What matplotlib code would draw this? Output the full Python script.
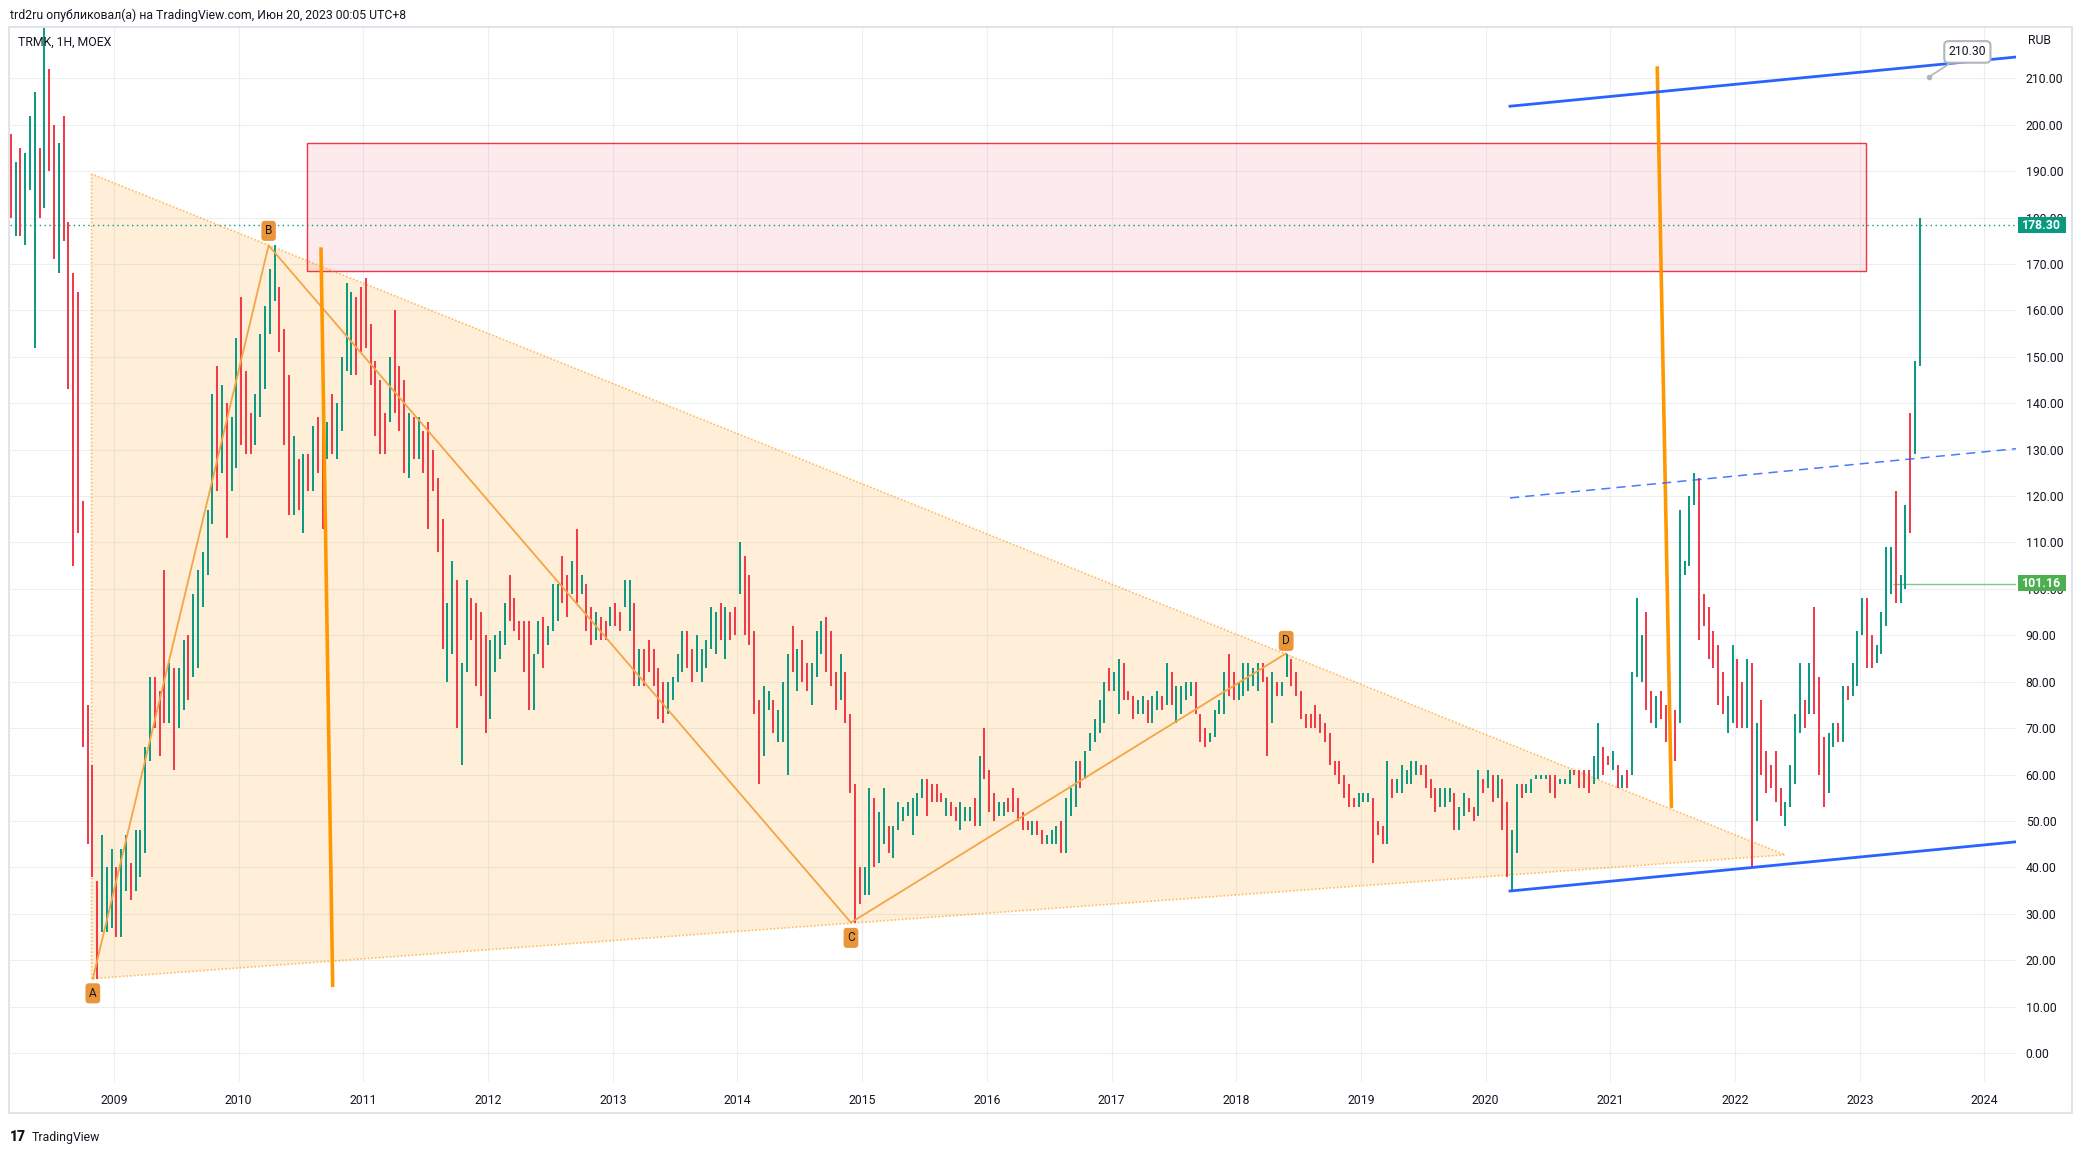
import numpy as np
import matplotlib.pyplot as plt
from matplotlib.patches import Polygon, Rectangle

plt.rcParams['font.family'] = ['Roboto', 'DejaVu Sans']

# ---- price bars: two-week bars (low / high / direction) ----
bar_start = 2008 + 4 / 26
bars_per_year = 26

bar_lo = [
    180, 176, 176, 174, 186, 152, 180, 182, 190, 171, 168, 175, 143, 105, 112, 66, 45, 38, 16, 26, 26, 27,  # 2008
    25, 25, 35, 33, 35, 38, 43, 63, 70, 64, 71, 71, 61, 70, 74, 76, 81, 83, 96, 103, 114, 121, 125, 111, 121, 126,  # 2009
    131, 129, 129, 131, 137, 143, 155, 162, 151, 131, 116, 116, 117, 112, 121, 121, 125, 113, 128, 129, 128, 134, 147, 146, 146, 151,  # 2010
    152, 144, 133, 129, 129, 136, 138, 134, 125, 124, 128, 128, 125, 113, 121, 108, 87, 80, 86, 70, 62, 82, 89, 79, 77, 69,  # 2011
    72, 82, 85, 88, 93, 91, 89, 82, 74, 74, 86, 83, 88, 91, 93, 97, 94, 99, 97, 99, 91, 88, 89, 89, 89, 92,  # 2012
    92, 91, 96, 91, 79, 79, 79, 82, 79, 72, 71, 73, 76, 80, 82, 83, 80, 82, 80, 83, 87, 86, 89, 85, 89, 90,  # 2013
    99, 90, 88, 73, 58, 64, 74, 69, 67, 67, 60, 82, 78, 80, 78, 75, 81, 86, 82, 79, 74, 76, 71, 56, 28, 32,  # 2014
    34, 34, 40, 41, 45, 43, 42, 48, 50, 51, 47, 51, 55, 51, 54, 54, 54, 51, 51, 50, 48, 50, 50, 49, 49, 59,  # 2015
    52, 50, 51, 51, 52, 52, 50, 48, 48, 47, 47, 45, 45, 45, 45, 43, 43, 51, 53, 57, 59, 65, 67, 69, 71, 78,  # 2016
    78, 73, 76, 76, 72, 73, 73, 71, 71, 74, 74, 75, 75, 71, 73, 76, 77, 73, 67, 66, 67, 68, 73, 73, 77, 76,  # 2017
    76, 77, 78, 79, 78, 80, 64, 71, 77, 77, 81, 79, 77, 72, 70, 70, 70, 69, 67, 62, 60, 58, 55, 53, 53, 53,  # 2018
    54, 54, 41, 47, 45, 45, 55, 56, 56, 58, 58, 60, 60, 57, 55, 52, 53, 53, 54, 48, 48, 51, 52, 50, 51, 56,  # 2019
    57, 54, 55, 48, 38, 35, 43, 55, 56, 56, 59, 59, 59, 56, 55, 58, 58, 58, 60, 57, 57, 56, 58, 59, 60, 62,  # 2020
    61, 57, 57, 57, 60, 81, 80, 74, 71, 70, 72, 67, 66, 63, 71, 103, 105, 118, 89, 92, 85, 83, 75, 73, 69, 71,  # 2021
    70, 70, 70, 40, 50, 60, 56, 57, 54, 51, 49, 53, 58, 69, 70, 73, 73, 60, 53, 56, 66, 67, 67, 76, 77, 79,  # 2022
    90, 83, 83, 84, 86, 92, 99, 97, 97, 100, 112, 129, 148,  # 2023
]
bar_hi = [
    198, 192, 195, 194, 202, 207, 195, 221, 212, 200, 196, 202, 179, 168, 164, 119, 75, 62, 37, 47, 40, 44,  # 2008
    40, 44, 47, 41, 48, 48, 66, 81, 81, 78, 104, 84, 83, 83, 89, 90, 99, 104, 108, 117, 142, 148, 144, 140, 137, 154,  # 2009
    163, 147, 138, 142, 155, 161, 169, 174, 165, 156, 146, 133, 128, 129, 129, 135, 137, 135, 136, 142, 140, 150, 166, 164, 163, 165,  # 2010
    167, 157, 149, 145, 138, 150, 160, 148, 145, 138, 137, 137, 134, 136, 130, 124, 115, 97, 106, 102, 84, 102, 98, 97, 95, 90,  # 2011
    89, 90, 91, 97, 103, 98, 93, 93, 93, 86, 93, 94, 92, 101, 101, 107, 103, 106, 113, 103, 101, 96, 95, 94, 93, 96,  # 2012
    97, 95, 102, 102, 97, 87, 87, 89, 87, 83, 80, 80, 81, 86, 91, 91, 87, 90, 87, 89, 96, 95, 97, 96, 95, 96,  # 2013
    110, 107, 103, 91, 76, 79, 78, 76, 74, 80, 86, 92, 87, 89, 84, 84, 91, 93, 94, 91, 82, 86, 82, 73, 58, 40,  # 2014
    40, 57, 55, 52, 57, 49, 49, 54, 53, 54, 55, 56, 59, 59, 58, 58, 56, 55, 54, 53, 54, 53, 53, 55, 64, 70,  # 2015
    61, 56, 54, 54, 55, 57, 55, 52, 50, 50, 50, 48, 47, 48, 49, 50, 55, 57, 63, 63, 65, 69, 72, 76, 80, 83,  # 2016
    82, 85, 84, 78, 77, 76, 77, 76, 77, 78, 77, 84, 82, 79, 79, 80, 80, 80, 73, 70, 69, 74, 76, 82, 86, 82,  # 2017
    80, 84, 84, 83, 84, 84, 81, 82, 80, 80, 86, 85, 82, 78, 73, 73, 75, 73, 71, 69, 63, 63, 60, 58, 55, 56,  # 2018
    56, 56, 55, 50, 49, 63, 59, 59, 62, 61, 63, 63, 62, 62, 59, 57, 57, 57, 57, 56, 53, 56, 55, 53, 61, 59,  # 2019
    61, 60, 60, 59, 54, 48, 58, 58, 58, 59, 60, 60, 60, 60, 60, 59, 59, 61, 61, 61, 61, 61, 64, 71, 66, 64,  # 2020
    65, 62, 60, 61, 82, 98, 90, 95, 78, 77, 78, 75, 71, 74, 117, 106, 120, 125, 124, 99, 96, 91, 88, 82, 77, 88,  # 2021
    85, 80, 85, 84, 71, 76, 65, 62, 65, 57, 54, 62, 73, 84, 76, 84, 96, 81, 68, 69, 71, 71, 79, 79, 84, 91,  # 2022
    98, 98, 90, 88, 95, 109, 109, 121, 103, 118, 138, 149, 180,  # 2023
]
bar_dir = ("rgrgggrgrrgrrrrrrrrggg"        # 2008
           "rggrggggrrrgrggrgggggrgrgg"    # 2009
           "rrrgggggrrrgrgrgrrgrggggrr"    # 2010
           "rrrrrgrrrgrgrrrrrggrggrrrr"    # 2011
           "ggggrrrrrggrgggrrgrgrrgrrg"    # 2012
           "rrggrgrrrrrggggrrgggggrgrr"    # 2013
           "grrrrggrgggrgrrgggrrrgrrrr"    # 2014
           "ggrggrgggggggrrrrgrrgggrgr"    # 2015
           "rrggrrrrrgrrgggrgggrgggggr"    # 2016
           "ggrrrggrggrgrggggrrrggggrr"    # 2017
           "gggggrrgrggrrrrrrrrrrrrrrg"    # 2018
           "ggrrrgrgggggrrrrgggrggrrgr"    # 2019
           "grgrrggrgggggrrgggrrrrggrr"    # 2020
           "grgrgggrrgrrrrggggrrrrrrgg"    # 2021
           "rrgrgrrrrrggggrgrrrggrgrgg"    # 2022
           "grrggggrggrgg")                # 2023

years = list(range(2009, 2025))
price_ticks = list(range(0, 220, 10))
last_price = 178.30
level_price = 101.16
level_start = 2023.27

# ---- drawings on the chart ----
tri_x = [2008.82, 2008.82, 2022.40]
tri_y = [189.4, 16.0, 42.7]
abcd_x = [2008.83, 2010.24, 2014.91, 2018.40]
abcd_y = [16.0, 174.0, 28.1, 86.1]
abcd_names = ['A', 'B', 'C', 'D']
zone_x = [2010.55, 2023.05]
zone_y = [168.5, 196.0]
vline1_x, vline1_y = [2010.66, 2010.754], [173.6, 14.2]
vline2_x, vline2_y = [2021.376, 2021.49], [212.6, 52.8]
chan_x = [2020.195, 2024.253]
chan_top = [204.0, 214.6]
chan_mid = [119.6, 130.2]
chan_bot = [34.9, 45.5]
callout_x, callout_y = 2023.555, 210.30

W, H = 2082, 1149
fig = plt.figure(figsize=(W / 100, H / 100), dpi=100)
ax = fig.add_axes([10 / W, 1 - 1082 / H, 2006 / W, 1055 / H])
ax.set_xlim(2008.166, 2024.253)
ax.set_ylim(-6.25, 221.07)

ax.set_xticks(years)
ax.set_xticklabels([str(y) for y in years])
ax.set_yticks(price_ticks)
ax.set_yticklabels([f'{p:.2f}' for p in price_ticks])
ax.yaxis.tick_right()
ax.tick_params(axis='y', length=0, pad=7, labelsize=8.8, labelcolor='#131722')
ax.tick_params(axis='x', length=0, pad=9, labelsize=8.8, labelcolor='#131722')
ax.grid(True, color='#eceef2', lw=0.8)
ax.set_axisbelow(True)
for s in ax.spines.values():
    s.set_visible(False)

# zone and triangle fills
ax.add_patch(Rectangle((zone_x[0], zone_y[0]), zone_x[1] - zone_x[0], zone_y[1] - zone_y[0],
                       fc='#f23645', alpha=0.1, ec='none', zorder=1))
ax.add_patch(Rectangle((zone_x[0], zone_y[0]), zone_x[1] - zone_x[0], zone_y[1] - zone_y[0],
                       fc='none', ec='#f23645', lw=1, zorder=2))
ax.add_patch(Polygon(list(zip(tri_x, tri_y)), closed=True, fc='#ff9800', alpha=0.15, ec='none', zorder=1))
ax.plot(tri_x + [tri_x[0]], tri_y + [tri_y[0]], color='#ff9800', alpha=0.6, lw=1.2,
        ls=(0, (1, 1.2)), zorder=2)

ax.axhline(last_price, color='#089981', lw=1, ls=(0, (1, 2.5)), zorder=2.5)
ax.hlines(level_price, level_start, ax.get_xlim()[1], color='#81c784', lw=1, zorder=2.5)

# bars
n = len(bar_lo)
bx = bar_start + (np.arange(n) + 0.5) / bars_per_year
cols = ['#089981' if d == 'g' else '#f23645' for d in bar_dir]
ax.vlines(bx, bar_lo, bar_hi, colors=cols, lw=1.4, zorder=3)

# pattern lines
ax.plot(abcd_x, abcd_y, color='#f5a445', lw=1.3, zorder=4)
ax.plot(vline1_x, vline1_y, color='#ff9800', lw=2.6, zorder=4, solid_capstyle='butt')
ax.plot(vline2_x, vline2_y, color='#ff9800', lw=2.6, zorder=4, solid_capstyle='butt')
ax.plot(chan_x, chan_top, color='#2962ff', lw=2.0, zorder=4)
ax.plot(chan_x, chan_bot, color='#2962ff', lw=2.0, zorder=4)
ax.plot(chan_x, chan_mid, color='#2962ff', lw=1.1, dashes=(6, 4), alpha=0.85, zorder=4)

offsets = [-10.5, 10.5, -11, 9]
for nm, px, py, off in zip(abcd_names, abcd_x, abcd_y, offsets):
    ax.annotate(nm, xy=(px, py), xytext=(0, off), textcoords='offset points',
                ha='center', va='center', fontsize=8.5, color='#131722', zorder=6,
                bbox=dict(boxstyle='round,pad=0.3,rounding_size=0.3', fc='#e9963b', ec='none'))

# callout with the channel price
ax.plot(callout_x, callout_y, 'o', ms=3, color='#b2b5be', zorder=7)
ax.annotate(f'{callout_y:.2f}', xy=(callout_x, callout_y), xytext=(2023.863, 215.7),
            textcoords='data', ha='center', va='center', fontsize=8.8, color='#131722',
            bbox=dict(boxstyle='round,pad=0.35', fc='white', ec='#b2b5be', lw=1.5),
            arrowprops=dict(arrowstyle='-', color='#b2b5be', lw=1.2, shrinkA=0, shrinkB=0),
            zorder=8, annotation_clip=False)

# price labels on the scale
ytr = ax.get_yaxis_transform()
for val, col in [(last_price, '#089981'), (level_price, '#4caf50')]:
    ax.add_patch(Rectangle((1.001, val - 1.72), 0.0239, 3.45, transform=ytr, clip_on=False,
                           fc=col, ec='none', zorder=9))
    ax.text(1.0129, val, f'{val:.2f}', transform=ytr, ha='center', va='center', color='white',
            fontsize=8.8, fontweight='bold', zorder=10, clip_on=False)

# frame and captions
fig.add_artist(Rectangle((9 / W, 1 - 1113 / H), 2063 / W, 1086 / H, transform=fig.transFigure,
                         fill=False, ec='#e0e3eb', lw=1.5))
fig.text(10 / W, 1 - 15.5 / H, 'trd2ru опубликовал(а) на TradingView.com, Июн 20, 2023 00:05 UTC+8',
         ha='left', va='center', fontsize=8.8, color='#131722')
fig.text(18 / W, 1 - 42 / H, 'TRMK, 1H, MOEX', ha='left', va='center', fontsize=8.8, color='#131722')
fig.text(2028 / W, 1 - 41 / H, 'RUB', ha='left', va='center', fontsize=8.8, color='#131722')
fig.text(10 / W, 1 - 1137 / H, '17', ha='left', va='center', fontsize=10, fontweight='heavy', color='#131722')
fig.text(32 / W, 1 - 1137 / H, 'TradingView', ha='left', va='center', fontsize=8.8, color='#131722')

fig.savefig('out.png', dpi=100)
